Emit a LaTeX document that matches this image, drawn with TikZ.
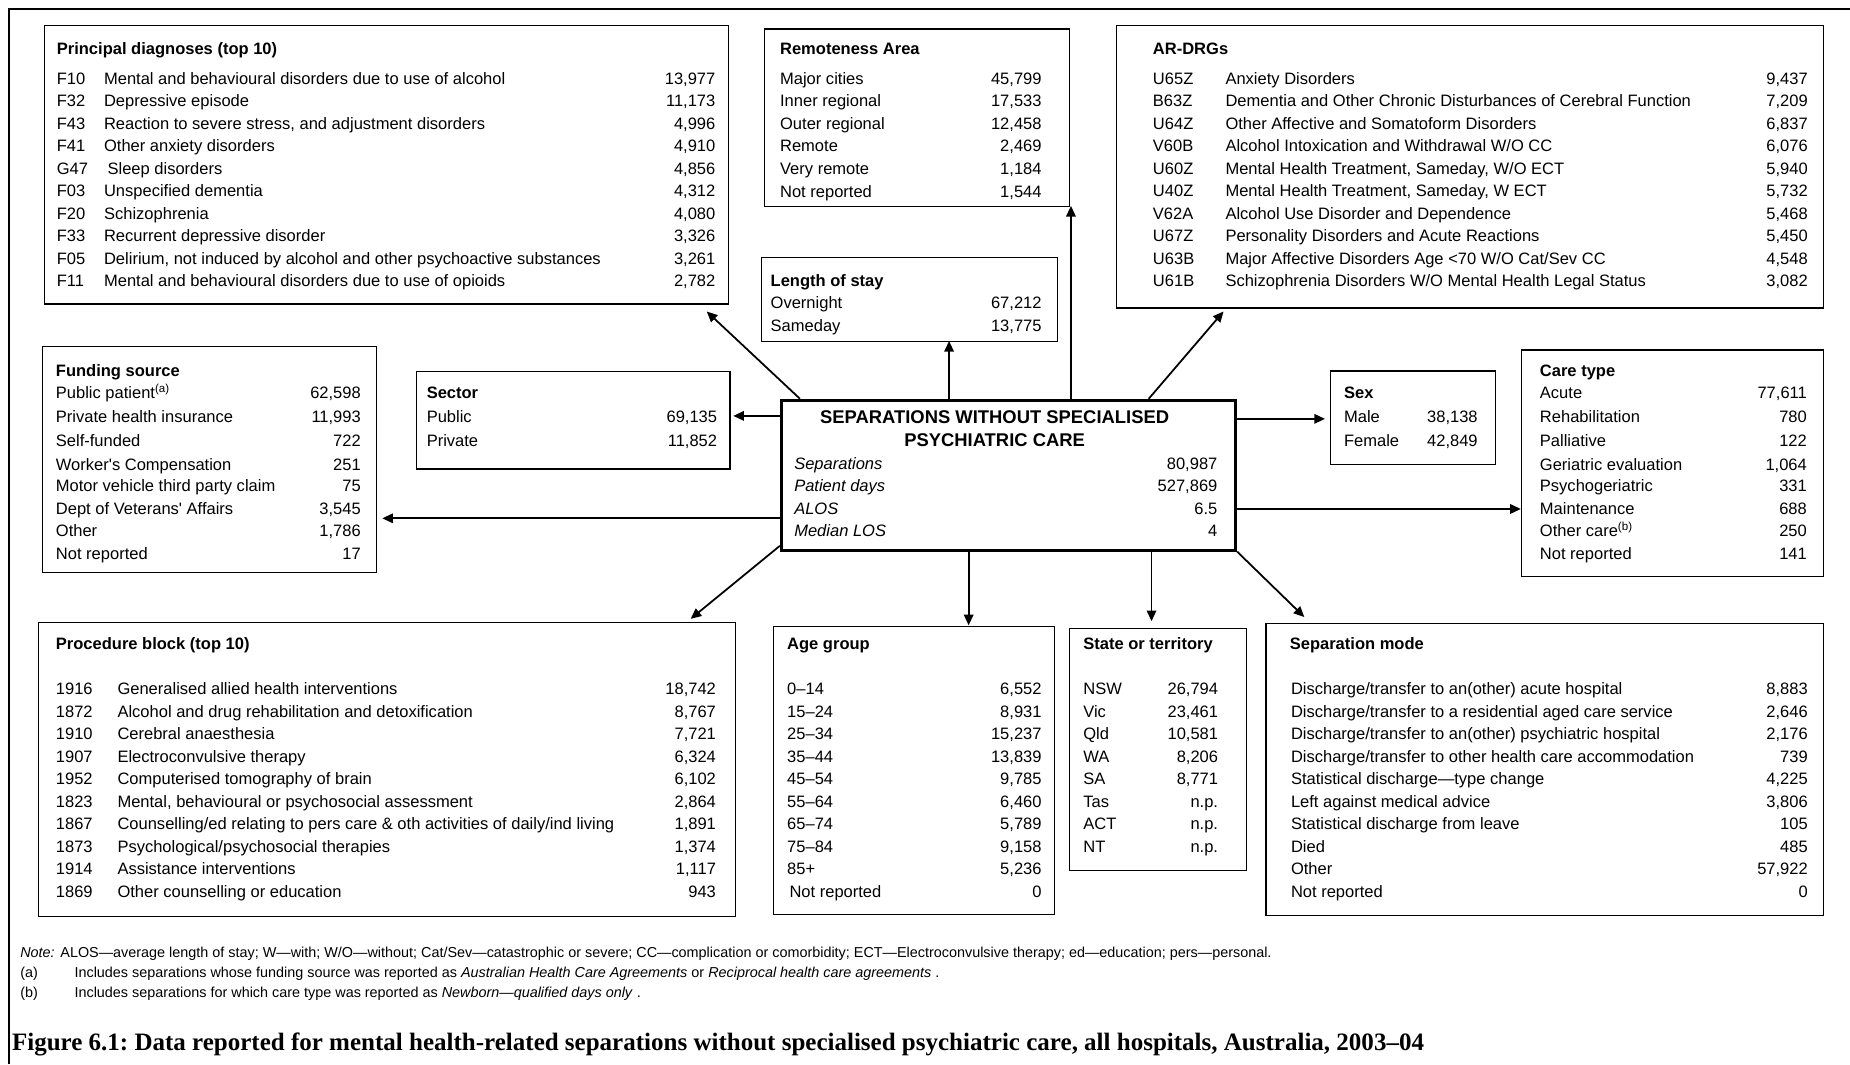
\documentclass[tikz,border=0pt]{standalone}
\usepackage{fontspec}
\setmainfont{Liberation Sans}
\newfontfamily\capfont{Liberation Serif}
\newfontfamily\nomapfont{Liberation Sans}
\usetikzlibrary{arrows.meta}
\newcommand\Bcfg[6]{\def\Bn{#1}\def\Bx{#2}\def\Bd{#3}\def\Bv{#4}\def\By{#5}\def\Bs{#6}}
\newcommand\TRow[4]{\pgfmathsetmacro\Yr{\By+(#1-1)*\Bs}%
 \node[txt,anchor=base west] (\Bn c#1) at (\Bx,\Yr) {#2};%
 \node[txt,anchor=base west] (\Bn d#1) at (\Bd,\Yr) {#3};%
 \node[txt,anchor=base east] (\Bn v#1) at (\Bv,\Yr) {#4};}
\newcommand\LRow[3]{\pgfmathsetmacro\Yr{\By+(#1-1)*\Bs}%
 \node[txt,anchor=base west] (\Bn l#1) at (\Bx,\Yr) {#2};%
 \node[txt,anchor=base east] (\Bn v#1) at (\Bv,\Yr) {#3};}
\newcommand\LRowY[4]{%
 \node[txt,anchor=base west] (\Bn l#1) at (\Bx,#2) {#3};%
 \node[txt,anchor=base east] (\Bn v#1) at (\Bv,#2) {#4};}
\newcommand\mkbox[5]{\node[box,anchor=north west,minimum width={(#4-#2)*1pt},minimum height={(#5-#3)*1pt}] (#1) at (#2,#3) {};}
\newcommand\apos{{\nomapfont '}}
\frenchspacing
\begin{document}
\begin{tikzpicture}[x=1pt,y=-1pt,
  txt/.style={font=\fontsize{14}{16}\selectfont, inner sep=0pt},
  hd/.style={font=\fontsize{14}{16}\selectfont\bfseries, inner sep=0pt, anchor=base west},
  box/.style={draw, line width=1.2pt, inner sep=0pt},
  arr/.style={line width=1.5pt, -{Triangle[length=9pt,width=8pt]}},
  note/.style={font=\fontsize{12.2}{14}\selectfont, inner sep=0pt, anchor=base west},
]
\useasboundingbox (0,0) rectangle (1568,902);
\fill[white] (0,0) rectangle (1568,902);
\draw[line width=1.5pt] (7.5,902) -- (7.5,7.5) -- (1568,7.5);

% boxes
\mkbox{pd}{37}{21}{617}{257}
\mkbox{ra}{647.5}{24}{906}{174.3}
\mkbox{los}{645}{217.5}{895.5}{289}
\mkbox{ar}{945.7}{21}{1545}{260.5}
\mkbox{fs}{35.3}{293}{318.4}{484.5}
\mkbox{sec}{352.5}{314.4}{618}{396.9}
\node[draw, line width=2.6pt, inner sep=0pt, anchor=north west, minimum width=385pt, minimum height=127pt] (c) at (661,338) {};
\mkbox{sex}{1127}{314}{1267}{393}
\mkbox{care}{1289}{296}{1545}{488}
\mkbox{proc}{32}{527}{623}{776}
\mkbox{age}{655}{530.6}{893}{774.6}
\mkbox{st}{906}{532}{1056}{737}
\mkbox{sm}{1072.5}{528}{1545}{775.4}

% Principal diagnoses
\node[hd] (pdt) at (48,46.3) {Principal diagnoses (top 10)};
\Bcfg{pd}{48}{88}{606.5}{71.2}{19.11}
\TRow{1}{F10}{Mental and behavioural disorders due to use of alcohol}{13,977}
\TRow{2}{F32}{Depressive episode}{11,173}
\TRow{3}{F43}{Reaction to severe stress, and adjustment disorders}{4,996}
\TRow{4}{F41}{Other anxiety disorders}{4,910}
\TRow{5}{G47}{\hspace{3pt}Sleep disorders}{4,856}
\TRow{6}{F03}{Unspecified dementia}{4,312}
\TRow{7}{F20}{Schizophrenia}{4,080}
\TRow{8}{F33}{Recurrent depressive disorder}{3,326}
\TRow{9}{F05}{Delirium, not induced by alcohol and other psychoactive substances}{3,261}
\TRow{10}{F11}{Mental and behavioural disorders due to use of opioids}{2,782}

% Remoteness
\node[hd] (rat) at (661,45.8) {Remoteness Area};
\Bcfg{ra}{661}{0}{883}{71.2}{19.16}
\LRow{1}{Major cities}{45,799}
\LRow{2}{Inner regional}{17,533}
\LRow{3}{Outer regional}{12,458}
\LRow{4}{Remote}{2,469}
\LRow{5}{Very remote}{1,184}
\LRow{6}{Not reported}{1,544}

% Length of stay
\node[hd] (lost) at (653,243.2) {Length of stay};
\Bcfg{los}{653}{0}{883}{261.5}{19.3}
\LRow{1}{Overnight}{67,212}
\LRow{2}{Sameday}{13,775}

% AR-DRGs
\node[hd] (art) at (977,46.3) {AR-DRGs};
\Bcfg{ar}{977}{1038.5}{1532.4}{71.2}{19.11}
\TRow{1}{U65Z}{Anxiety Disorders}{9,437}
\TRow{2}{B63Z}{Dementia and Other Chronic Disturbances of Cerebral Function}{7,209}
\TRow{3}{U64Z}{Other Affective and Somatoform Disorders}{6,837}
\TRow{4}{V60B}{Alcohol Intoxication and Withdrawal W/O CC}{6,076}
\TRow{5}{U60Z}{Mental Health Treatment, Sameday, W/O ECT}{5,940}
\TRow{6}{U40Z}{Mental Health Treatment, Sameday, W ECT}{5,732}
\TRow{7}{V62A}{Alcohol Use Disorder and Dependence}{5,468}
\TRow{8}{U67Z}{Personality Disorders and Acute Reactions}{5,450}
\TRow{9}{U63B}{Major Affective Disorders Age <70 W/O Cat/Sev CC}{4,548}
\TRow{10}{U61B}{Schizophrenia Disorders W/O Mental Health Legal Status}{3,082}

% Funding source
\node[hd] (fst) at (47.2,319.5) {Funding source};
\Bcfg{fs}{47.2}{0}{306}{0}{0}
\LRowY{1}{337.8}{Public patient\textsuperscript{(a)}}{62,598}
\LRowY{2}{358.2}{Private health insurance}{11,993}
\LRowY{3}{378.2}{Self-funded}{722}
\LRowY{4}{398.5}{Worker\apos s Compensation}{251}
\LRowY{5}{416.9}{Motor vehicle third party claim}{75}
\LRowY{6}{435.9}{Dept of Veterans\apos\ Affairs}{3,545}
\LRowY{7}{455.1}{Other}{1,786}
\LRowY{8}{474}{Not reported}{17}

% Sector
\node[hd] (sect) at (361.5,337.9) {Sector};
\Bcfg{sec}{361.5}{0}{608}{358.2}{20.1}
\LRow{1}{Public}{69,135}
\LRow{2}{Private}{11,852}

% Central
\node[font=\fontsize{15.6}{18}\selectfont\bfseries, inner sep=0pt, anchor=base] (ct1) at (843,358.6) {SEPARATIONS WITHOUT SPECIALISED};
\node[font=\fontsize{15.6}{18}\selectfont\bfseries, inner sep=0pt, anchor=base] (ct2) at (843,378.6) {PSYCHIATRIC CARE};
\Bcfg{cen}{673}{0}{1032}{398}{18.85}
\LRow{1}{\itshape Separations}{80,987}
\LRow{2}{\itshape Patient days}{527,869}
\LRow{3}{\itshape ALOS}{6.5}
\LRow{4}{\itshape Median LOS}{4}

% Sex
\node[hd] (sext) at (1139,337.5) {Sex};
\Bcfg{sex}{1139}{0}{1252.6}{358.5}{20.3}
\LRow{1}{Male}{38,138}
\LRow{2}{Female}{42,849}

% Care type
\node[hd] (caret) at (1305,319.5) {Care type};
\Bcfg{care}{1305}{0}{1531.6}{0}{0}
\LRowY{1}{337.8}{Acute}{77,611}
\LRowY{2}{358.2}{Rehabilitation}{780}
\LRowY{3}{378.2}{Palliative}{122}
\LRowY{4}{398.5}{Geriatric evaluation}{1,064}
\LRowY{5}{416.9}{Psychogeriatric}{331}
\LRowY{6}{435.9}{Maintenance}{688}
\LRowY{7}{455.1}{Other care\textsuperscript{(b)}}{250}
\LRowY{8}{474}{Not reported}{141}

% Procedure block
\node[hd] (proct) at (47.2,550.5) {Procedure block (top 10)};
\Bcfg{proc}{47.2}{99.4}{607}{588.7}{19.11}
\TRow{1}{1916}{Generalised allied health interventions}{18,742}
\TRow{2}{1872}{Alcohol and drug rehabilitation and detoxification}{8,767}
\TRow{3}{1910}{Cerebral anaesthesia}{7,721}
\TRow{4}{1907}{Electroconvulsive therapy}{6,324}
\TRow{5}{1952}{Computerised tomography of brain}{6,102}
\TRow{6}{1823}{Mental, behavioural or psychosocial assessment}{2,864}
\TRow{7}{1867}{Counselling/ed relating to pers care \& oth activities of daily/ind living}{1,891}
\TRow{8}{1873}{Psychological/psychosocial therapies}{1,374}
\TRow{9}{1914}{Assistance interventions}{1,117}
\TRow{10}{1869}{Other counselling or education}{943}

% Age group
\node[hd] (aget) at (667,550.5) {Age group};
\Bcfg{age}{667}{0}{883}{588.7}{19.11}
\LRow{1}{0–14}{6,552}
\LRow{2}{15–24}{8,931}
\LRow{3}{25–34}{15,237}
\LRow{4}{35–44}{13,839}
\LRow{5}{45–54}{9,785}
\LRow{6}{55–64}{6,460}
\LRow{7}{65–74}{5,789}
\LRow{8}{75–84}{9,158}
\LRow{9}{85+}{5,236}
\LRow{10}{\hspace{2pt}Not reported}{0}

% State
\node[hd] (stt) at (918,550.5) {State or territory};
\Bcfg{st}{918}{0}{1032.6}{588.7}{19.11}
\LRow{1}{NSW}{26,794}
\LRow{2}{Vic}{23,461}
\LRow{3}{Qld}{10,581}
\LRow{4}{WA}{8,206}
\LRow{5}{SA}{8,771}
\LRow{6}{Tas}{n.p.}
\LRow{7}{ACT}{n.p.}
\LRow{8}{NT}{n.p.}

% Separation mode
\node[hd] (smt) at (1093,550.5) {Separation mode};
\Bcfg{sm}{1094}{0}{1532.4}{588.7}{19.11}
\LRow{1}{Discharge/transfer to an(other) acute hospital}{8,883}
\LRow{2}{Discharge/transfer to a residential aged care service}{2,646}
\LRow{3}{Discharge/transfer to an(other) psychiatric hospital}{2,176}
\LRow{4}{Discharge/transfer to other health care accommodation}{739}
\LRow{5}{Statistical discharge—type change}{4,225}
\LRow{6}{Left against medical advice}{3,806}
\LRow{7}{Statistical discharge from leave}{105}
\LRow{8}{Died}{485}
\LRow{9}{Other}{57,922}
\LRow{10}{Not reported}{0}

% arrows
\coordinate (tPD) at (599,264);
\coordinate (tLOS) at (804.4,289);
\coordinate (tRA) at (907.7,174.5);
\coordinate (tAR) at (1037,264);
\coordinate (tSec) at (621.5,352.5);
\coordinate (tFS) at (324,439.3);
\coordinate (tProc) at (585.4,524.5);
\coordinate (tAge) at (821,530);
\coordinate (tSt) at (976,526.5);
\coordinate (tSm) at (1105.5,523);
\coordinate (tSex) at (1123,355);
\coordinate (tCare) at (1289,431.4);
\draw[arr] ([xshift=17pt]c.north west) -- (tPD);
\draw[arr] (c.north -| tLOS) -- (tLOS);
\draw[arr] (c.north -| tRA) -- (tRA);
\draw[arr] ([xshift=-75pt]c.north east) -- (tAR);
\draw[arr] (c.west |- tSec) -- (tSec);
\draw[arr] (c.west |- tFS) -- (tFS);
\draw[arr] ([yshift=5pt]c.south west) -- (tProc);
\draw[arr] (c.south -| tAge) -- (tAge);
\draw[arr] (c.south -| tSt) -- (tSt);
\draw[arr] (c.south east) -- (tSm);
\draw[arr] (c.east |- tSex) -- (tSex);
\draw[arr] (c.east |- tCare) -- (tCare);

% notes
\node[note] (n1a) at (17,811.7) {\itshape Note:};
\node[note] (n1b) at (51,811.7) {ALOS—average length of stay; W—with; W/O—without; Cat/Sev—catastrophic or severe; CC—complication or comorbidity; ECT—Electroconvulsive therapy; ed—education; pers—personal.};
\node[note] (n2a) at (17,828.7) {(a)};
\node[note] (n2b) at (63,828.7) {Includes separations whose funding source was reported as \textit{Australian Health Care Agreements} or \textit{Reciprocal health care agreements} .};
\node[note] (n3a) at (17,845.7) {(b)};
\node[note] (n3b) at (63,845.7) {Includes separations for which care type was reported as \textit{Newborn—qualified days only} .};

% caption
\node[font=\capfont\bfseries\fontsize{21.2}{24}\selectfont, inner sep=0pt, anchor=base west] (cap) at (10,890) {Figure 6.1: Data reported for mental health-related separations without specialised psychiatric care, all hospitals, Australia, 2003–04};
\end{tikzpicture}
\end{document}
